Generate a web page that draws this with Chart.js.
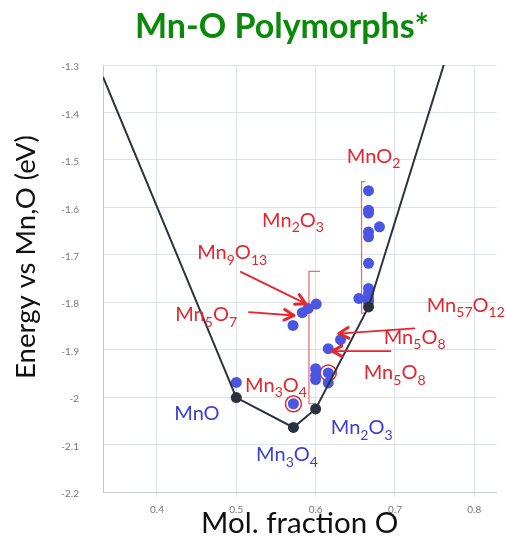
<!DOCTYPE html>
<html>
<head>
<meta charset="utf-8">
<script src="https://cdn.jsdelivr.net/npm/chart.js@4.4.1/dist/chart.umd.min.js"></script>
<style>
  html, body { margin: 0; padding: 0; background: #fff; }
  canvas { display: block; }
</style>
</head>
<body>
<canvas id="chart" width="506" height="546"></canvas>
<script>
'use strict';

// convex hull (ground states), x = mol. fraction O, y = energy (eV)
var hullX = [0.332, 0.5, 0.572, 0.6, 0.6667, 0.7615];
var hullE = [-1.325, -2.001, -2.064, -2.025, -1.810, -1.3];

// computed polymorphs
var polyX = [0.5, 0.572, 0.5715, 0.5832, 0.5907, 0.6008, 0.6159, 0.6314,
  0.6, 0.6, 0.6, 0.6159, 0.6159,
  0.6667, 0.6667, 0.6667, 0.6667, 0.6667, 0.6667, 0.6667, 0.6667, 0.6667, 0.6667,
  0.6545, 0.6805];
var polyE = [-1.969, -2.014, -1.849, -1.822, -1.813, -1.804, -1.898, -1.879,
  -1.940, -1.954, -1.963, -1.949, -1.970,
  -1.565, -1.606, -1.612, -1.652, -1.662, -1.718, -1.771, -1.782, -1.792, -1.799,
  -1.792, -1.641];

// experimentally known structures, marked with a red ring
var ringX = [0.572, 0.6159];
var ringE = [-2.014, -1.949];

var xTicks = [0.4, 0.5, 0.6, 0.7, 0.8];
var yTicks = [-1.3, -1.4, -1.5, -1.6, -1.7, -1.8, -1.9, -2, -2.1, -2.2];

function toPoints(xs, ys) {
  return xs.map(function (x, i) { return { x: x, y: ys[i] }; });
}

var RED = '#e4262f';
var BLUE = '#3b3dd6';
var FONT = 'Lato, "Open Sans", sans-serif';

// draw a formula like Mn2O3 with digits as subscripts
function drawFormula(ctx, text, x, y, size, color) {
  var parts = text.match(/\d+|\D+/g);
  ctx.save();
  ctx.fillStyle = color;
  ctx.textBaseline = 'middle';
  ctx.textAlign = 'left';
  parts.forEach(function (p) {
    var sub = /^\d+$/.test(p);
    ctx.font = (sub ? Math.round(size * 0.68) : size) + 'px ' + FONT;
    ctx.fillText(p, x, sub ? y + size * 0.36 : y);
    x += ctx.measureText(p).width;
  });
  ctx.restore();
}

function arrow(ctx, x0, y0, x1, y1) {
  var a = Math.atan2(y1 - y0, x1 - x0), h = 11;
  ctx.save();
  ctx.strokeStyle = RED;
  ctx.lineCap = 'round';
  ctx.lineJoin = 'round';
  ctx.lineWidth = 1.8;
  ctx.beginPath();
  ctx.moveTo(x0, y0);
  ctx.lineTo(x1, y1);
  ctx.stroke();
  ctx.lineWidth = 3;
  ctx.beginPath();
  ctx.moveTo(x1 - h * Math.cos(a - 0.5), y1 - h * Math.sin(a - 0.5));
  ctx.lineTo(x1, y1);
  ctx.lineTo(x1 - h * Math.cos(a + 0.5), y1 - h * Math.sin(a + 0.5));
  ctx.stroke();
  ctx.restore();
}

// brackets behind the points, arrows and labels on top
var notes = {
  id: 'notes',
  beforeDatasetsDraw: function (chart) {
    var ctx = chart.ctx, sx = chart.scales.x, sy = chart.scales.y;
    var brackets = [
      [[0.6629, -1.546], [0.6579, -1.546], [0.6579, -1.823], [0.6629, -1.823]],
      [[0.6055, -1.735], [0.5916, -1.735], [0.5916, -2.014], [0.6, -2.014]]
    ];
    ctx.save();
    ctx.strokeStyle = '#e8686c';
    ctx.lineWidth = 1.2;
    brackets.forEach(function (b) {
      ctx.beginPath();
      b.forEach(function (p, i) {
        var px = sx.getPixelForValue(p[0]), py = sy.getPixelForValue(p[1]);
        if (i === 0) ctx.moveTo(px, py); else ctx.lineTo(px, py);
      });
      ctx.stroke();
    });
    ctx.restore();
  },
  afterDatasetsDraw: function (chart) {
    var ctx = chart.ctx, sx = chart.scales.x, sy = chart.scales.y;
    var arrows = [
      [0.5057, -1.736, 0.5874, -1.803],
      [0.516, -1.821, 0.5727, -1.828],
      [0.7245, -1.855, 0.6293, -1.866],
      [0.6943, -1.903, 0.6209, -1.903]
    ];
    arrows.forEach(function (a) {
      arrow(ctx, sx.getPixelForValue(a[0]), sy.getPixelForValue(a[1]),
        sx.getPixelForValue(a[2]), sy.getPixelForValue(a[3]));
    });

    var labels = [
      ['MnO2', 0.6393, -1.492, RED],
      ['Mn2O3', 0.5325, -1.627, RED],
      ['Mn9O13', 0.4507, -1.696, RED],
      ['Mn5O7', 0.4230, -1.827, RED],
      ['Mn3O4', 0.5111, -1.975, RED],
      ['Mn57O12', 0.740, -1.806, RED],
      ['Mn5O8', 0.6858, -1.874, RED],
      ['Mn5O8', 0.6606, -1.949, RED],
      ['MnO', 0.4218, -2.034, BLUE],
      ['Mn2O3', 0.6191, -2.065, BLUE],
      ['Mn3O4', 0.525, -2.122, BLUE]
    ];
    labels.forEach(function (l) {
      drawFormula(ctx, l[0], sx.getPixelForValue(l[1]), sy.getPixelForValue(l[2]), 20, l[3]);
    });

    // titles
    var area = chart.chartArea;
    ctx.save();
    ctx.textAlign = 'center';
    ctx.textBaseline = 'middle';
    ctx.fillStyle = '#0a8a0a';
    ctx.font = 'bold 34px ' + FONT;
    ctx.fillText('Mn-O Polymorphs*', 282, 27);
    ctx.fillStyle = '#111';
    ctx.font = '29.5px ' + FONT;
    ctx.fillText('Mol. fraction O', (area.left + area.right) / 2, 523);
    ctx.translate(26, 257);
    ctx.rotate(-Math.PI / 2);
    ctx.font = '27.5px ' + FONT;
    ctx.fillText('Energy vs Mn,O (eV)', 0, 0);
    ctx.restore();
  }
};

new Chart(document.getElementById('chart'), {
  type: 'scatter',
  data: {
    datasets: [
      {
        type: 'line',
        label: 'hull',
        data: toPoints(hullX, hullE),
        borderColor: '#2c3140',
        borderWidth: 2,
        pointRadius: [0, 5.5, 5.5, 5.5, 5.5, 0],
        pointBackgroundColor: '#2c3140',
        pointBorderWidth: 0,
        tension: 0,
        order: 0
      },
      {
        label: 'rings',
        data: toPoints(ringX, ringE),
        pointRadius: 8,
        pointBackgroundColor: 'rgba(0,0,0,0)',
        pointBorderColor: RED,
        pointBorderWidth: 1.5,
        order: 2
      },
      {
        label: 'polymorphs',
        data: toPoints(polyX, polyE),
        pointRadius: 5.5,
        pointBackgroundColor: '#4a56e2',
        pointBorderWidth: 0,
        order: 1
      }
    ]
  },
  options: {
    responsive: false,
    animation: false,
    layout: { padding: { top: 65, right: 8, left: 0, bottom: 0 } },
    plugins: {
      legend: { display: false },
      tooltip: { enabled: false }
    },
    scales: {
      x: {
        type: 'linear',
        min: 0.332,
        max: 0.828,
        afterBuildTicks: function (s) {
          s.ticks = xTicks.map(function (v) { return { value: v }; });
        },
        afterFit: function (s) { s.height = 54; },
        ticks: {
          color: '#777',
          font: { size: 10, family: FONT },
          padding: 7,
          maxRotation: 0,
          callback: function (v) { return v.toFixed(1); }
        },
        grid: { color: '#dde2e8', tickLength: 5 },
        border: { color: '#c3cad2' }
      },
      y: {
        min: -2.2,
        max: -1.3,
        afterBuildTicks: function (s) {
          s.ticks = yTicks.map(function (v) { return { value: v }; });
        },
        afterFit: function (s) { s.width = 103; },
        ticks: {
          color: '#777',
          font: { size: 10, family: FONT },
          padding: 24,
          labelOffset: 2,
          callback: function (v) { return String(+v.toFixed(1)); }
        },
        grid: { color: '#dde2e8', drawTicks: false },
        border: { color: '#c3cad2' }
      }
    }
  },
  plugins: [notes]
});
</script>
</body>
</html>
